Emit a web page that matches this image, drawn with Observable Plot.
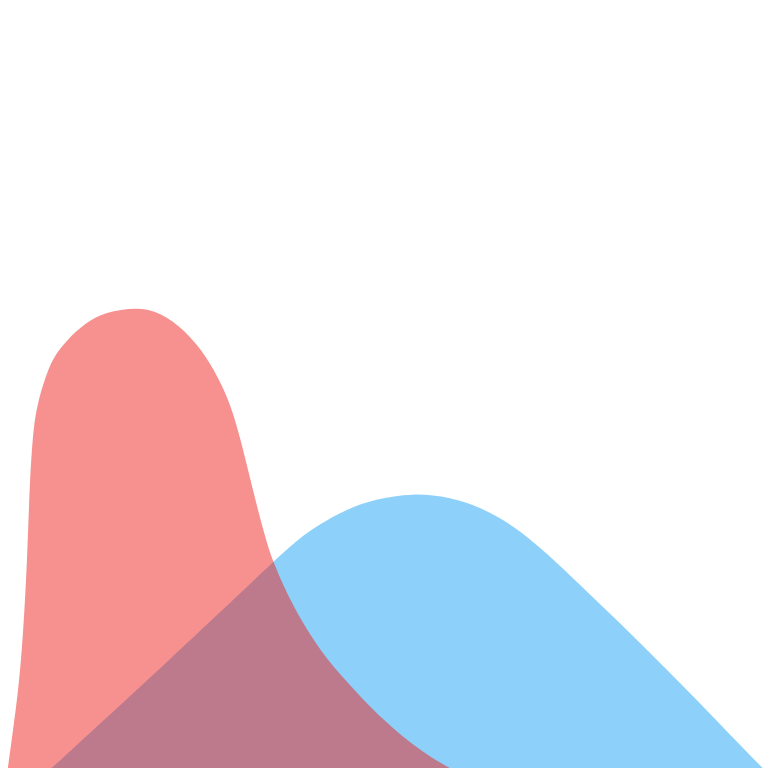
<!DOCTYPE html>
<html>
<head>
<meta charset="utf-8">
<script src="https://cdn.jsdelivr.net/npm/d3@7"></script>
<script src="https://cdn.jsdelivr.net/npm/@observablehq/plot@0.6"></script>
<style>
  body { margin: 0; background: #fff; }
</style>
</head>
<body>
<div id="chart"></div>
<script>
// densidad del grupo rojo
const redX = [0.039, 0.104, 0.169, 0.234, 0.286, 0.326, 0.352, 0.371, 0.391, 0.410, 0.443, 0.495, 0.547, 0.625, 0.716, 0.872, 1.107, 1.367, 1.784,
  2.083, 2.409, 2.695, 2.891, 3.034, 3.151, 3.255, 3.359, 3.464, 3.555, 3.776, 3.997, 4.258, 4.648, 5.078, 5.768, 6.771];
const redY = [0, 0.32, 0.70, 1.07, 1.50, 2.00, 2.40, 2.80, 3.20, 3.45, 3.77, 3.97, 4.12, 4.30, 4.45, 4.60, 4.77, 4.88, 4.93,
  4.88, 4.70, 4.43, 4.15, 3.88, 3.55, 3.22, 2.90, 2.60, 2.38, 2.00, 1.70, 1.40, 1.07, 0.73, 0.32, 0];

// densidad del grupo azul
const blueX = [0.208, 0.677, 2.344, 3.216, 3.555, 3.867, 4.167, 4.492, 4.883, 5.378, 5.859, 6.250, 6.680, 7.122, 7.552, 8.073, 8.594, 9.115, 9.922, 10.352];
const blueY = [0, 0.32, 1.50, 2.13, 2.38, 2.60, 2.76, 2.90, 3.01, 3.07, 3.03, 2.93, 2.75, 2.47, 2.15, 1.77, 1.37, 0.97, 0.32, 0];

const red = redX.map((x, i) => ({x, y: redY[i]}));
const blue = blueX.map((x, i) => ({x, y: blueY[i]}));

let chart = Plot.plot({
  width: 768,
  height: 768,
  margin: 0,
  axis: null,
  x: {domain: [0, 10]},
  y: {domain: [0.32, 8]},
  marks: [
    Plot.areaY(blue, {x: "x", y: "y", fill: "#1ba3f5", fillOpacity: 0.5, curve: "basis", clip: true}),
    Plot.areaY(red, {x: "x", y: "y", fill: "#ef2320", fillOpacity: 0.5, curve: "basis", clip: true})
  ]
});

d3.select('#chart').append(() => chart);
</script>
</body>
</html>
